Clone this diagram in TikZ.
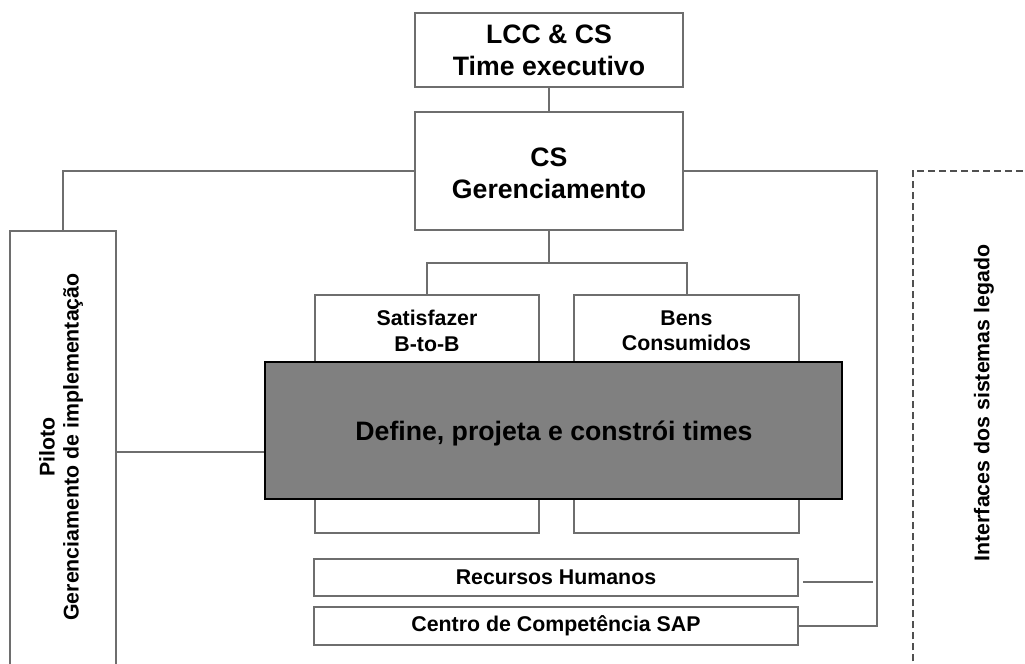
\documentclass[tikz,border=0pt]{standalone}
\usepackage{fontspec}
\setmainfont{Liberation Sans}
\usetikzlibrary{fit}
\definecolor{edgegray}{HTML}{6E6E6E}
\definecolor{darkfill}{HTML}{808080}
\definecolor{dashgray}{HTML}{505050}
\begin{document}
\begin{tikzpicture}[x=0.75pt,y=-0.75pt,
  frame/.style={draw=edgegray,line width=1.5pt,fill=white,inner sep=0pt},
  hidden/.style={inner sep=0pt},
  wire/.style={draw=edgegray,line width=1.5pt},
  bigtxt/.style={font=\fontsize{20}{24}\selectfont\bfseries,align=center,inner sep=0pt},
  smalltxt/.style={font=\fontsize{16}{19}\selectfont\bfseries,align=center,inner sep=0pt},
  teamtxt/.style={font=\fontsize{20}{24}\selectfont\bfseries,align=center,inner sep=0pt},
  legacyline/.style={draw=dashgray,line width=1.5pt,dash pattern=on 5.25pt off 3pt}]

\useasboundingbox (0,0) rectangle (1025,664);

% management chain
\node[frame,fit={(415,13) (683,87)}] (lcc) {};
\node[bigtxt] (lcctxt) at (lcc.center) {LCC \& CS\\Time executivo};
\node[frame,fit={(415,112) (683,230)}] (cs) {};
\node[bigtxt] (cstxt) at ([yshift=-1.5pt]cs.center) {CS\\Gerenciamento};

% pilot column (runs off the bottom edge)
\node[hidden,fit={(10,231) (116,672)}] (pil) {};
\node[smalltxt,rotate=90,font=\fontsize{16}{18}\selectfont\bfseries] (piltxt) at (61,447)
  {Piloto\\Gerenciamento de implementação};

% business units
\node[frame,fit={(315,295) (539,533)}] (sat) {};
\node[smalltxt] (sattxt) at (427,331) {Satisfazer\\B-to-B};
\node[frame,fit={(574,295) (799,533)}] (bens) {};
\node[smalltxt] (benstxt) at (686.5,331) {Bens\\Consumidos};

% team building band
\node[draw=black,line width=1.5pt,fill=darkfill,inner sep=0pt,fit={(265,362) (842,499)}] (team) {};
\node[teamtxt] (teamtxt) at (554,433) {Define, projeta e constrói times};

% support units
\node[frame,fit={(314,559) (798,596)}] (rh) {};
\node[smalltxt] (rhtxt) at (rh.center) {Recursos Humanos};
\node[frame,fit={(314,607) (798,645)}] (cen) {};
\node[smalltxt] (centxt) at (cen.center) {Centro de Competência SAP};

% legacy interfaces area (open to the right and bottom)
\node[hidden,fit={(913,171) (1030,672)}] (leg) {};
\node[smalltxt,rotate=90] (legtxt) at (984,403) {Interfaces dos sistemas legado};

\coordinate (split) at (549,263);
\coordinate (bus) at (877,171);

% connectors
\draw[wire] (lcc.south) -- (cs.north);
\draw[wire] (cs.south) -- (split);
\draw[wire] (sat.north) |- (split) -| (bens.north);
\draw[wire] (cs.west) -| (pil.north);
\draw[wire] (cs.east) -| (bus |- cen.east) -- (cen.east);
\draw[wire] ([shift={(4,4)}]rh.east) -- ([shift={(-4,4)}]bus |- rh.east);
\draw[wire] (pil.east) -- (team.west |- pil.east);

% open outlines
\draw[wire] (pil.south west) |- (pil.north east) -- (pil.south east);
\draw[legacyline] (leg.south west) |- (leg.north east);
\end{tikzpicture}
\end{document}
